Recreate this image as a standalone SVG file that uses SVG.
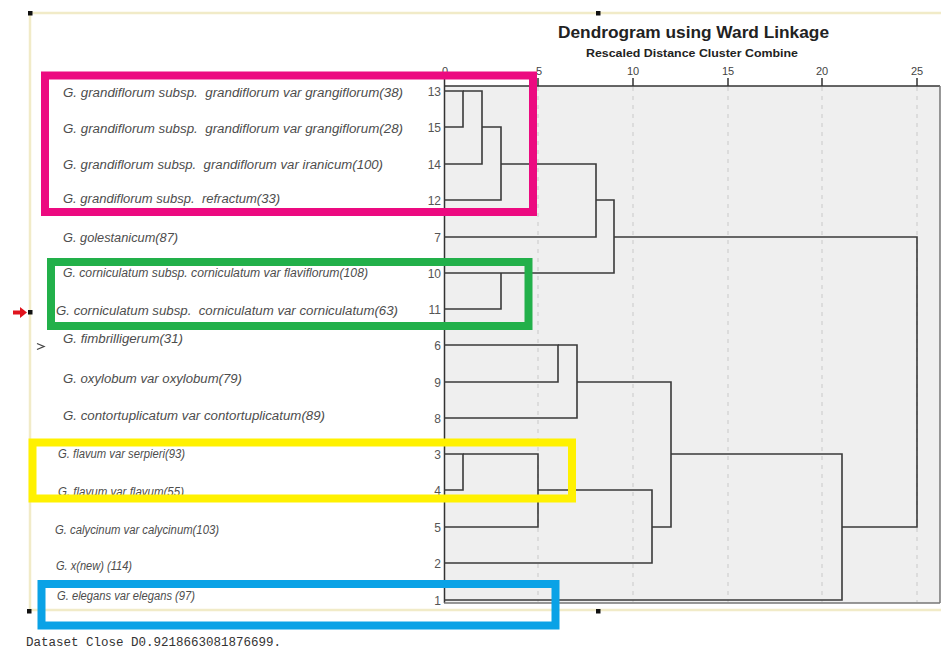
<svg xmlns="http://www.w3.org/2000/svg" width="941" height="659" viewBox="0 0 941 659">
<style>
.lbl{font-family:"Liberation Sans",Arial,sans-serif;font-style:italic;font-size:12px;fill:#4d4d4d;white-space:pre}
.num{font-family:"Liberation Sans",Arial,sans-serif;font-size:12px;fill:#555;text-anchor:end}
.tick{font-family:"Liberation Sans",Arial,sans-serif;font-size:11px;fill:#444;text-anchor:middle}
.title{font-family:"Liberation Sans",Arial,sans-serif;font-weight:bold;fill:#222}
.den{fill:none;stroke:#3a3a3a;stroke-width:1.6}
.grid{stroke:#cfcfcf;stroke-width:1.2;stroke-dasharray:4 5}
.box{fill:none;stroke-width:8}
.frame{stroke:#f1ebc8;stroke-width:2.5;fill:none}
.h{fill:#111}
</style>
<rect width="941" height="659" fill="#ffffff"/>
<g id="frame">
<path class="frame" d="M30,13 H941 M30,13 V610 M30,610 H941"/>
<rect class="h" x="28" y="11" width="4.5" height="4.5"/>
<rect class="h" x="596" y="11" width="4.5" height="4.5"/>
<rect class="h" x="28" y="310" width="4.5" height="4.5"/>
<rect class="h" x="27" y="609" width="4.5" height="4.5"/>
<rect class="h" x="596" y="609" width="4.5" height="4.5"/>
<path d="M13,310.5 H20 V307 L27,312.5 L20,318 V314.5 H13 Z" fill="#e0141e"/>
<path d="M37,343.5 L44,346.5 L37,349.5" fill="none" stroke="#444" stroke-width="1.3"/>
</g>
<g id="panel">
<rect x="444" y="86" width="496" height="517" fill="#efefef"/>
<line class="grid" x1="538" y1="87" x2="538" y2="602"/>
<line class="grid" x1="633" y1="87" x2="633" y2="602"/>
<line class="grid" x1="728" y1="87" x2="728" y2="602"/>
<line class="grid" x1="822" y1="87" x2="822" y2="602"/>
<line class="grid" x1="917" y1="87" x2="917" y2="602"/>
<path d="M444,86 H940" stroke="#333" stroke-width="1.5"/>
<path d="M444.5,86 V603" stroke="#333" stroke-width="1.5"/>
<path d="M444,603 H940 M940,86 V603" stroke="#777" stroke-width="1.5" fill="none"/>
<path d="M444.5,78 V86 M538,78 V86 M633,78 V86 M728,78 V86 M822,78 V86 M917,78 V86" stroke="#333" stroke-width="1.5"/>
<text class="tick" x="445" y="75">0</text>
<text class="tick" x="539" y="75">5</text>
<text class="tick" x="633" y="75">10</text>
<text class="tick" x="728" y="75">15</text>
<text class="tick" x="822" y="75">20</text>
<text class="tick" x="917" y="75">25</text>
<text class="title" x="558" y="38" font-size="16" textLength="271" lengthAdjust="spacingAndGlyphs">Dendrogram using Ward Linkage</text>
<text class="title" x="586" y="57" font-size="10.5" textLength="212" lengthAdjust="spacingAndGlyphs">Rescaled Distance Cluster Combine</text>
</g>
<g id="connectors">
<path class="den" d="M444,91 H463 V127 H444"/>
<path class="den" d="M463,91 H482 V164 H444"/>
<path class="den" d="M482,127 H501 V200 H444"/>
<path class="den" d="M501,164 H596 V237 H444"/>
<path class="den" d="M444,273 H614 V200 H596"/>
<path class="den" d="M444,309 H501 V273"/>
<path class="den" d="M614,237 H917 V527 H842"/>
<path class="den" d="M444,345 H558 V382 H444"/>
<path class="den" d="M558,345 H577 V418 H444"/>
<path class="den" d="M577,382 H671 V527 H652"/>
<path class="den" d="M444,454 H463 V490 H444"/>
<path class="den" d="M463,454 H538 V527 H444"/>
<path class="den" d="M538,490 H652 V563 H444"/>
<path class="den" d="M671,454 H842 V600 H444"/>
</g>
<g id="n13"><text class="lbl" x="63" y="97" textLength="340" lengthAdjust="spacingAndGlyphs" xml:space="preserve">G. grandiflorum subsp.  grandiflorum var grangiflorum(38)</text><text class="num" x="441" y="96">13</text></g>
<g id="n15"><text class="lbl" x="63" y="133" textLength="340" lengthAdjust="spacingAndGlyphs" xml:space="preserve">G. grandiflorum subsp.  grandiflorum var grangiflorum(28)</text><text class="num" x="441" y="132">15</text></g>
<g id="n14"><text class="lbl" x="63" y="169" textLength="320" lengthAdjust="spacingAndGlyphs" xml:space="preserve">G. grandiflorum subsp.  grandiflorum var iranicum(100)</text><text class="num" x="441" y="169">14</text></g>
<g id="n12"><text class="lbl" x="63" y="203" textLength="217" lengthAdjust="spacingAndGlyphs" xml:space="preserve">G. grandiflorum subsp.  refractum(33)</text><text class="num" x="441" y="205">12</text></g>
<g id="n7"><text class="lbl" x="63" y="242" textLength="115" lengthAdjust="spacingAndGlyphs">G. golestanicum(87)</text><text class="num" x="441" y="242">7</text></g>
<g id="n10"><text class="lbl" x="63" y="277" textLength="305" lengthAdjust="spacingAndGlyphs">G. corniculatum subsp. corniculatum var flaviflorum(108)</text><text class="num" x="441" y="278">10</text></g>
<g id="n11"><text class="lbl" x="56" y="315" textLength="342" lengthAdjust="spacingAndGlyphs" xml:space="preserve">G. corniculatum subsp.  corniculatum var corniculatum(63)</text><text class="num" x="441" y="314">11</text></g>
<g id="n6"><text class="lbl" x="63" y="343" textLength="120" lengthAdjust="spacingAndGlyphs">G. fimbrilligerum(31)</text><text class="num" x="441" y="350">6</text></g>
<g id="n9"><text class="lbl" x="63" y="383" textLength="179" lengthAdjust="spacingAndGlyphs">G. oxylobum var oxylobum(79)</text><text class="num" x="441" y="387">9</text></g>
<g id="n8"><text class="lbl" x="63" y="420" textLength="262" lengthAdjust="spacingAndGlyphs">G. contortuplicatum var contortuplicatum(89)</text><text class="num" x="441" y="423">8</text></g>
<g id="n3"><text class="lbl" x="58" y="458" textLength="127" lengthAdjust="spacingAndGlyphs">G. flavum var serpieri(93)</text><text class="num" x="441" y="459">3</text></g>
<g id="n4"><text class="lbl" x="58" y="496" textLength="126" lengthAdjust="spacingAndGlyphs">G. flavum var flavum(55)</text><text class="num" x="441" y="495">4</text></g>
<g id="n5"><text class="lbl" x="55" y="534" textLength="164" lengthAdjust="spacingAndGlyphs">G. calycinum var calycinum(103)</text><text class="num" x="441" y="532">5</text></g>
<g id="n2"><text class="lbl" x="56" y="570" textLength="76" lengthAdjust="spacingAndGlyphs">G. x(new) (114)</text><text class="num" x="441" y="568">2</text></g>
<g id="n1"><text class="lbl" x="57" y="600" textLength="138" lengthAdjust="spacingAndGlyphs">G. elegans var elegans (97)</text><text class="num" x="441" y="605">1</text></g>
<g id="highlights">
<rect class="box" x="45" y="75.5" width="488" height="136.5" stroke="#ec0a80"/>
<rect class="box" x="51" y="262" width="477.5" height="64" stroke="#22b04a"/>
<rect class="box" x="32.5" y="442.5" width="539.5" height="56" stroke="#fff100"/>
<rect class="box" x="41.5" y="584" width="514" height="41.5" stroke="#0aa2e6" stroke-width="7.5"/>
</g>
<text x="26" y="646" font-family="'Liberation Mono','Courier New',monospace" font-size="12.5" fill="#333">Dataset Close D0.9218663081876699.</text>
</svg>
